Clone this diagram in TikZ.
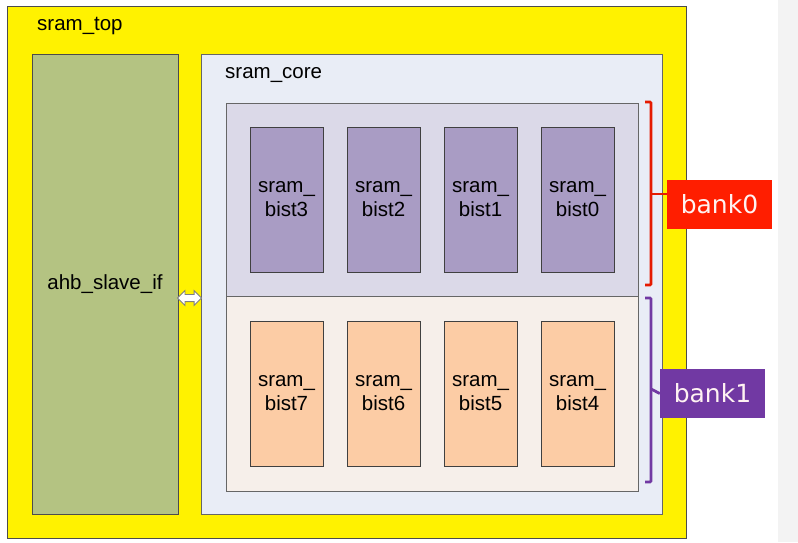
\documentclass[tikz,border=0pt]{standalone}
\usepackage{fontspec}
\setmainfont{Liberation Sans}
\newfontfamily\bankfont{DejaVu Sans}
\usetikzlibrary{shapes.arrows}
\definecolor{topyellow}{HTML}{FFF200}
\definecolor{ahbgreen}{HTML}{B4C382}
\definecolor{coreblue}{HTML}{E9EDF6}
\definecolor{bankzero}{HTML}{DBD9E8}
\definecolor{bistpurple}{HTML}{A99CC4}
\definecolor{bankone}{HTML}{F6EFEA}
\definecolor{bistorange}{HTML}{FCCCA5}
\definecolor{bankred}{HTML}{FF1E00}
\definecolor{bankviolet}{HTML}{7139A3}
\definecolor{stripgray}{HTML}{F3F3F3}
\tikzset{
    every node/.style={rectangle, inner sep=0mm, font=\fontsize{20.5}{24}\selectfont}
}
\tikzset{
    bist/.style={draw=black!75, minimum width=73pt, minimum height=145pt, align=center},
    banklabel/.style={minimum width=105pt, minimum height=49pt, text=white!95!red, font=\bankfont\fontsize{25}{30}\selectfont},
    bracket/.style={line width=2.8pt, rounded corners=1pt}
}

\begin{document}
\begin{tikzpicture}[x=1pt, y=-1pt]
  \useasboundingbox (0,0) rectangle (798,542);
  \fill[white] (0,0) rectangle (798,542);
  \fill[stripgray] (778,0) rectangle (798,542);

  \node (top) [draw=black!70, fill=topyellow, minimum width=679pt, minimum height=532pt] at (346.5,272) {};
  \node (toplbl) [anchor=west] at (37,26) {sram\_top};
  \node (ahb) [draw=black!70, fill=ahbgreen, minimum width=146pt, minimum height=460pt] at (105,284) {ahb\_slave\_if};
  \node (core) [draw=black!60, fill=coreblue, minimum width=461pt, minimum height=460pt] at (431.5,284) {};
  \node (corelbl) [anchor=west] at (225,75) {sram\_core};

  \node (bank0) [draw=black!60, fill=bankzero, minimum width=412pt, minimum height=193pt] at (432,199.5) {};
  \node (bank1) [draw=black!60, fill=bankone, minimum width=412pt, minimum height=195pt] at (432,393.5) {};

  \node (bist3) [bist, fill=bistpurple] at (286.5,199.5) {sram\_\\bist3};
  \node (bist2) [bist, fill=bistpurple] at (383.5,199.5) {sram\_\\bist2};
  \node (bist1) [bist, fill=bistpurple] at (480.5,199.5) {sram\_\\bist1};
  \node (bist0) [bist, fill=bistpurple] at (577.5,199.5) {sram\_\\bist0};
  \node (bist7) [bist, fill=bistorange] at (286.5,393.5) {sram\_\\bist7};
  \node (bist6) [bist, fill=bistorange] at (383.5,393.5) {sram\_\\bist6};
  \node (bist5) [bist, fill=bistorange] at (480.5,393.5) {sram\_\\bist5};
  \node (bist4) [bist, fill=bistorange] at (577.5,393.5) {sram\_\\bist4};

  \node (link) [double arrow, draw=black!50, line width=0.8pt, fill=white, minimum height=24pt, inner sep=3.2pt,
    double arrow head extend=3.8pt] at (189.5,298) {};

  \node (lbl0) [banklabel, fill=bankred] at (719.5,204.5) {bank0};
  \node (lbl1) [banklabel, fill=bankviolet] at (712.5,393.5) {bank1};

  \coordinate (r0a) at (645,102);
  \coordinate (r0b) at (645,285);
  \coordinate (r0m) at (651,194);
  \coordinate (r1a) at (645,298);
  \coordinate (r1b) at (645,482);
  \coordinate (r1m) at (651,389);
  \draw[bracket, bankred!90!black] (r0a) -| (r0m) |- (r0b);
  \draw[bracket, bankred!90!black] (r0m) -- (r0m -| lbl0.west);
  \draw[bracket, bankviolet] (r1a) -| (r1m) |- (r1b);
  \draw[bracket, bankviolet] (r1m) -- (lbl1.west);
\end{tikzpicture}
\end{document}
